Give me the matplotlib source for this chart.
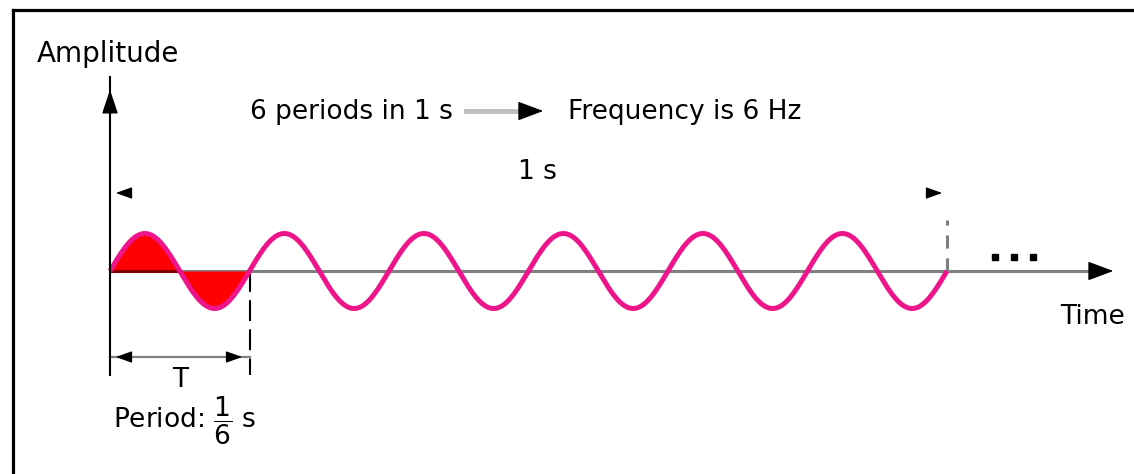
import numpy as np
import matplotlib
matplotlib.use("Agg")
import matplotlib.pyplot as plt

# data of the diagram: a 6 Hz sine observed for 1 s
freq_hz = 6
duration_s = 1.0
amplitude = 1.0

# texts
amp_label = "Amplitude"
time_label = "Time"
periods_text = "6 periods in 1 s"
freq_text = "Frequency is 6 Hz"
span_text = "1 s"
period_symbol = "T"
period_text = r"Period: $\dfrac{1}{6}$ s"

W, H = 1134, 474
fig = plt.figure(figsize=(W / 100, H / 100), dpi=100)
ax = fig.add_axes([0, 0, 1, 1])
ax.axis("off")

# pixel layout of the picture -> data units (seconds, amplitude)
x0_px, x1_px = 110, 947
base_px, amp_px = 271, 37.5
sx = (x1_px - x0_px) / duration_s


def px(x):
    return (x - x0_px) / sx


def py(y):
    return (base_px - y) / amp_px * amplitude


ax.set_xlim(px(0), px(W))
ax.set_ylim(py(H), py(0))

# outer frame (top and left edges only visible)
ax.plot([px(13), px(W)], [py(9.5), py(9.5)], color="black", lw=2.3, solid_capstyle="projecting")
ax.plot([px(13), px(13)], [py(9.5), py(H)], color="black", lw=2.3, solid_capstyle="projecting")

# sine wave
t = np.linspace(0, duration_s, 2000)
y = amplitude * np.sin(2 * np.pi * freq_hz * t)
period = 1 / freq_hz

# time axis
ax.plot([0, px(1100)], [0, 0], color="#808080", lw=2.2, zorder=2)
ax.plot([0, period / 2], [0, 0], color="#800000", lw=2.2, zorder=3)
ax.annotate("", xy=(px(1116), 0), xytext=(px(1093), 0),
            arrowprops=dict(arrowstyle="-|>,head_length=0.8,head_width=0.3",
                            color="black", lw=1, mutation_scale=20), zorder=5)

# red filled first period
m = t <= period
ax.fill_between(t[m], y[m], 0, color="#ff0000", lw=0, zorder=2)
ax.plot(t, y, color="#ee148a", lw=3.6, zorder=4, solid_capstyle="butt")

# amplitude axis
ax.plot([0, 0], [py(375), py(77)], color="black", lw=1.5, zorder=5)
ax.annotate("", xy=(0, py(87)), xytext=(0, py(104)),
            arrowprops=dict(arrowstyle="-|>,head_length=0.75,head_width=0.25",
                            color="black", lw=1, mutation_scale=20), zorder=6)

# dashed marker at end of first period
ax.plot([period, period], [0, py(375)], color="black", lw=1.5, ls=(0, (10, 4)), zorder=3)
# dashed marker at 1 s
ax.plot([duration_s, duration_s], [0, py(220)], color="#808080", lw=2.2, ls=(0, (4.3, 3.2)), zorder=3)

# period dimension
ax.plot([0, period], [py(357), py(357)], color="#808080", lw=1.6, zorder=3)
for tip, base in [(px(113), px(125)), (px(245), px(233))]:
    ax.annotate("", xy=(tip, py(357)), xytext=(base, py(357)),
                arrowprops=dict(arrowstyle="-|>,head_length=0.7,head_width=0.25",
                                color="black", lw=1, mutation_scale=14), zorder=5)

# 1 s dimension (only the heads show)
for tip, base in [(px(113), px(126)), (px(945), px(932))]:
    ax.annotate("", xy=(tip, py(193)), xytext=(base, py(193)),
                arrowprops=dict(arrowstyle="-|>,head_length=0.7,head_width=0.25",
                                color="black", lw=1, mutation_scale=14), zorder=5)

# gray arrow between the two headline texts
ax.plot([px(466), px(524)], [py(111), py(111)], color="#c0c0c0", lw=3.6, zorder=3)
ax.annotate("", xy=(px(546), py(111)), xytext=(px(521), py(111)),
            arrowprops=dict(arrowstyle="-|>,head_length=0.8,head_width=0.3",
                            color="black", lw=1, mutation_scale=20), zorder=5)

# continuation dots
for xd in [995, 1014, 1033]:
    ax.plot(px(xd), py(257), marker="s", ms=4, color="black", mec="black", zorder=5)

# texts
fs = 19
ax.text(px(37), py(62), amp_label, fontsize=20, va="baseline", ha="left")
ax.text(px(250), py(119), periods_text, fontsize=fs, va="baseline", ha="left")
ax.text(px(568), py(119), freq_text, fontsize=fs, va="baseline", ha="left")
ax.text(px(537), py(179), span_text, fontsize=fs, va="baseline", ha="center")
ax.text(px(1060), py(324), time_label, fontsize=fs, va="baseline", ha="left")
ax.text(period / 2, py(387), period_symbol, fontsize=fs, va="baseline", ha="center")
ax.text(px(113), py(429), period_text, fontsize=fs, va="baseline", ha="left")

fig.savefig("out.png", dpi=100, facecolor="white")
